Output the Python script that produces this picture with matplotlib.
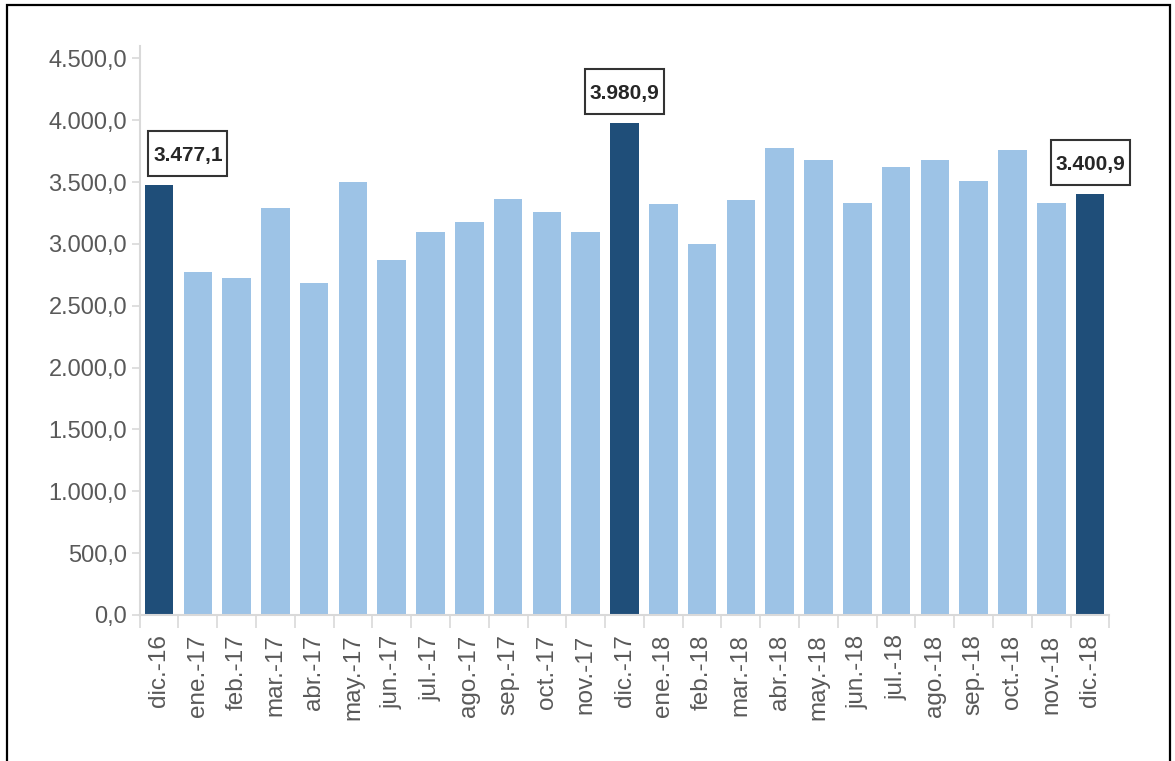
import matplotlib
matplotlib.use("Agg")
import matplotlib.pyplot as plt
import matplotlib.transforms as mtransforms
from matplotlib.patches import Rectangle

# Monthly series, Dec-2016 .. Dec-2018
months = ["dic.-16", "ene.-17", "feb.-17", "mar.-17", "abr.-17", "may.-17",
          "jun.-17", "jul.-17", "ago.-17", "sep.-17", "oct.-17", "nov.-17",
          "dic.-17", "ene.-18", "feb.-18", "mar.-18", "abr.-18", "may.-18",
          "jun.-18", "jul.-18", "ago.-18", "sep.-18", "oct.-18", "nov.-18",
          "dic.-18"]
values = [3477.1, 2775.0, 2722.0, 3292.0, 2686.0, 3503.0,
          2870.0, 3098.0, 3179.0, 3360.0, 3260.0, 3098.0,
          3980.9, 3322.0, 2999.0, 3355.0, 3776.0, 3678.0,
          3328.0, 3624.0, 3678.0, 3508.0, 3759.0, 3333.0,
          3400.9]
highlight = ["dic.-16", "dic.-17", "dic.-18"]
y_ticks = [0, 500, 1000, 1500, 2000, 2500, 3000, 3500, 4000, 4500]

DARK = "#1f4e79"
LIGHT = "#9dc3e6"
AXIS_GRAY = "#d9d9d9"
TEXT_GRAY = "#595959"


def es_fmt(v, dec=1):
    s = f"{v:,.{dec}f}"
    return s.replace(",", "X").replace(".", ",").replace("X", ".")


fig = plt.figure(figsize=(11.75, 7.61), dpi=100)
ax = fig.add_axes([0.1188, 0.1919, 0.8254, 0.7477])

x = list(range(len(months)))
colors = [DARK if m in highlight else LIGHT for m in months]
ax.bar(x, values, width=0.735, color=colors, linewidth=0)

ax.set_xlim(-0.5, len(months) - 0.5)
ax.set_ylim(0, 4600)

# y axis
ax.set_yticks(y_ticks)
ax.set_yticklabels([es_fmt(v) for v in y_ticks], fontfamily="Liberation Sans",
                   fontsize=17, color=TEXT_GRAY)
ax.tick_params(axis="y", length=6, width=1.2, color=AXIS_GRAY, pad=3)

# x axis: labels at bar centres, tick marks between bars
ax.set_xticks(x)
ax.set_xticklabels(months, rotation=90, fontfamily="Liberation Sans",
                   fontsize=17.5, color=TEXT_GRAY)
ax.tick_params(axis="x", which="major", length=0, pad=14)
ax.set_xticks([i - 0.5 for i in range(len(months) + 1)], minor=True)
ax.tick_params(axis="x", which="minor", length=9, width=1.2, color=AXIS_GRAY)

for side in ("top", "right"):
    ax.spines[side].set_visible(False)
for side in ("left", "bottom"):
    ax.spines[side].set_color(AXIS_GRAY)
    ax.spines[side].set_linewidth(1.5)

# value callouts on the December bars (box sizes in inches at 100 dpi)
box_w, box_h, gap = 0.79, 0.45, 0.09
shift = {"dic.-16": 0.29, "dic.-17": 0.0, "dic.-18": 0.0}
for i, (m, v) in enumerate(zip(months, values)):
    if m not in highlight:
        continue
    trans = fig.dpi_scale_trans + mtransforms.ScaledTranslation(i, v, ax.transData)
    cx = shift[m]
    ax.add_patch(Rectangle((cx - box_w / 2, gap), box_w, box_h, transform=trans,
                           facecolor="white", edgecolor="#333333",
                           linewidth=1.5, clip_on=False, zorder=3))
    ax.text(cx, gap + box_h / 2, es_fmt(v), transform=trans,
            ha="center", va="center_baseline", fontsize=15,
            fontweight="bold", fontfamily="Liberation Sans",
            color="#262626", zorder=4)

# outer frame
fig.patches.append(Rectangle((7 / 1175, -0.05), 1163 / 1175, 1.05 - 5 / 761,
                             transform=fig.transFigure, fill=False,
                             edgecolor="black", linewidth=1.6))

fig.savefig("out.png", dpi=100)
